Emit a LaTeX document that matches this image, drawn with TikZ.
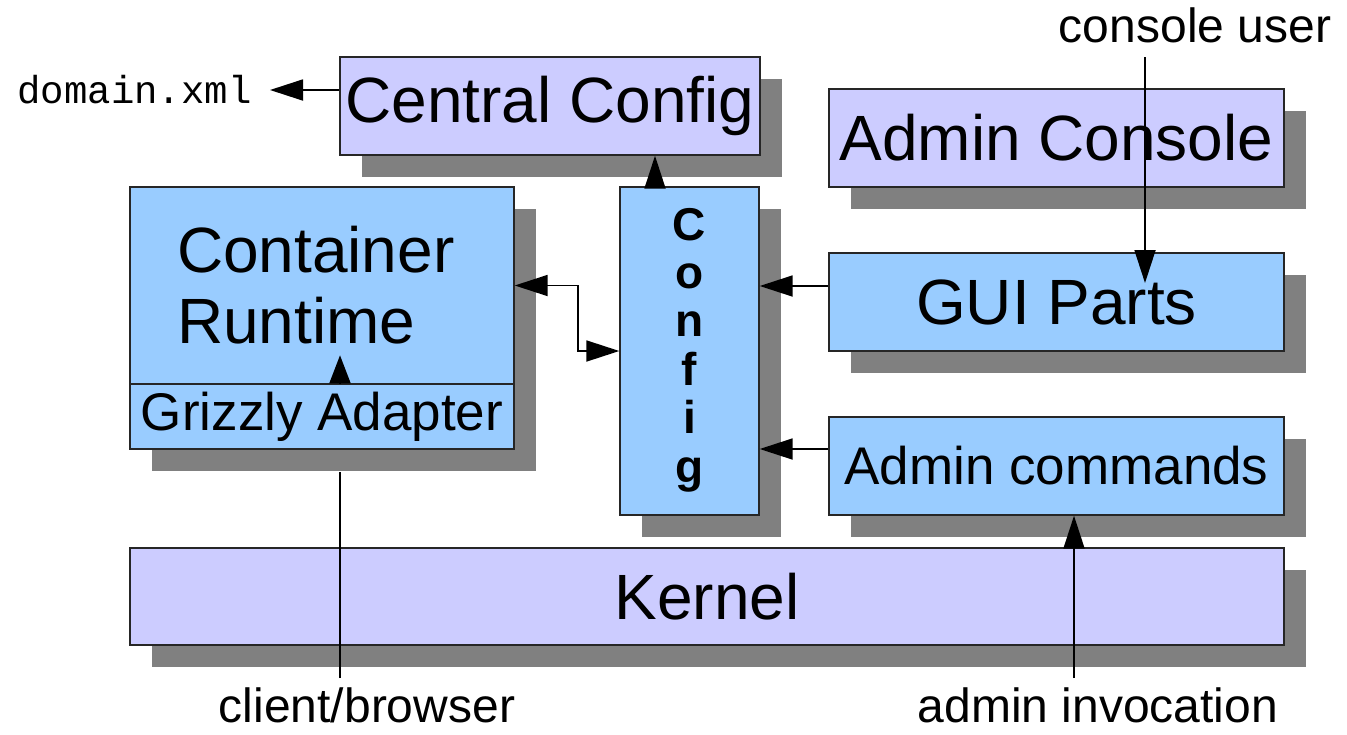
\documentclass[tikz,border=0pt]{standalone}
\usepackage{fontspec}
\setmainfont{Liberation Sans}
\newfontfamily\monof{Liberation Mono}
\usetikzlibrary{arrows.meta,shadows}
\definecolor{lav}{HTML}{CCCCFF}
\definecolor{lblue}{HTML}{99CCFF}
\definecolor{shd}{HTML}{808080}
\begin{document}
\begin{tikzpicture}[x=0.5pt,y=-0.5pt,
  box/.style={draw=black!85, line width=0.7pt, inner sep=0pt,
    drop shadow={shadow xshift=11pt, shadow yshift=-11pt, fill=shd, opacity=1}},
  lavbox/.style={box, fill=lav},
  bluebox/.style={box, fill=lblue},
  big/.style={font=\fontsize{32}{35.5}\selectfont},
  mid/.style={font=\fontsize{26.5}{30}\selectfont},
  lbl/.style={font=\fontsize{24}{28}\selectfont, inner sep=0pt},
  tip/.style={-{Triangle[length=16.5pt,width=10.5pt]}},
  conn/.style={line width=0.9pt, tip},
  plain/.style={line width=0.9pt},
]
\useasboundingbox (0,0) rectangle (1347,734);

% boxes
\node[lavbox, big, minimum width=210pt, minimum height=49pt] (cc) at (550,106) {Central Config};
\node[lavbox, big, minimum width=227.5pt, minimum height=49pt] (ac) at (1056.5,138) {Admin Console};
\node[bluebox, big, minimum width=192pt, minimum height=98.5pt, text width=145pt, align=left] (cr) at (322,285.5) {Container\\Runtime};
\node[bluebox, mid, minimum width=192pt, minimum height=32.5pt] (ga) at (322,416.5) {Grizzly Adapter};
\node[bluebox, font=\fontsize{23}{24.2}\selectfont\bfseries, align=center, minimum width=69.5pt, minimum height=164pt, text depth=6pt] (cfg) at (689.5,351) {C\\o\\n\\f\\i\\g};
\node[bluebox, big, minimum width=227.5pt, minimum height=49pt] (gui) at (1056.5,302) {GUI Parts};
\node[bluebox, mid, minimum width=227.5pt, minimum height=49pt] (cmd) at (1056.5,466) {Admin commands};
\node[lavbox, big, minimum width=577pt, minimum height=48.5pt] (k) at (707,596.5) {Kernel};

% labels
\node[font=\fontsize{19.5}{22}\monof, inner ysep=0pt, inner xsep=9pt, anchor=east] (dx) at (270,90) {domain.xml};
\node[lbl, anchor=base] (cu) at (1195,42) {console user};
\node[lbl, anchor=base] (cb) at (367,722) {client/browser};
\node[lbl, anchor=base] (ai) at (1098,722) {admin invocation};

\coordinate (cutop) at (1145,57);
\coordinate (guiin) at (1145,283);
\coordinate (cbbot) at (340,678);
\coordinate (cbtop) at (340,472);
\coordinate (aibot) at (1074,678);

% connectors
\draw[conn] (dx.east -| cc.west) -- (dx.east);
\draw[conn] ([xshift=-17.25pt]cfg.north) -- ([xshift=-17.25pt]cfg.north |- cc.south);
\draw[conn] ([yshift=8pt]gui.west) -- ([yshift=8pt]gui.west -| cfg.east);
\draw[conn] ([yshift=8.5pt]cmd.west) -- ([yshift=8.5pt]cmd.west -| cfg.east);
\draw[line width=0.9pt, {Triangle[length=16.5pt,width=10.5pt]}-{Triangle[length=16.5pt,width=10.5pt]}] (cr.east) -| (578,351) -- (cfg.west);
\draw[line width=0.9pt, -{Triangle[length=14pt,width=10.5pt]}] ([xshift=9pt]ga.north) -- ++(0,-28);
\draw[plain] (cbbot) -- (cbtop);
\draw[conn] (cutop) -- (guiin);
\draw[conn] (aibot) -- (aibot |- cmd.south);
\end{tikzpicture}
\end{document}
